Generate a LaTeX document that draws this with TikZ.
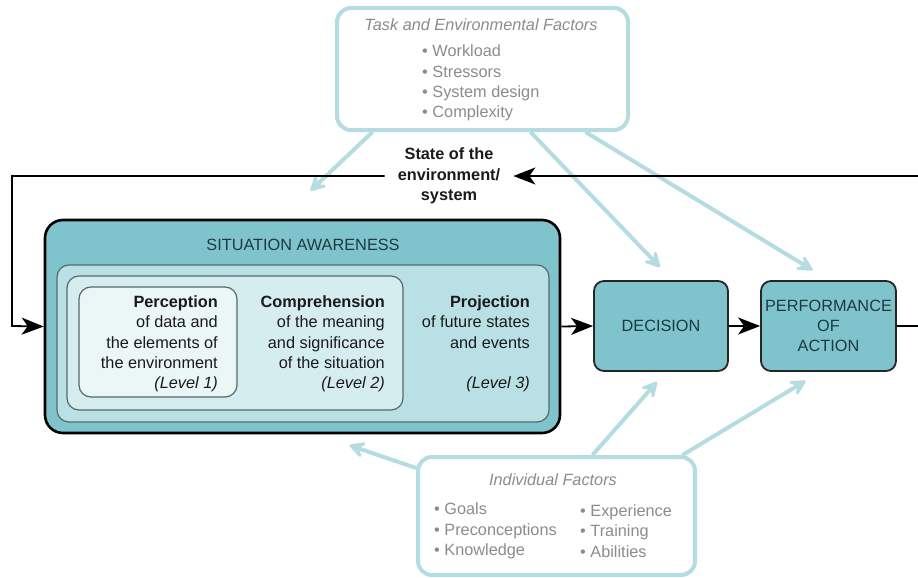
\documentclass[tikz,border=0pt]{standalone}
\usepackage{fontspec}
\setmainfont{Liberation Sans}
\usetikzlibrary{arrows.meta}

\definecolor{saTeal}{HTML}{7FC4CC}
\definecolor{lvThree}{HTML}{B9E0E5}
\definecolor{lvTwo}{HTML}{D6EDF0}
\definecolor{lvOne}{HTML}{EBF6F7}
\definecolor{faint}{HTML}{B5DCE1}
\definecolor{rimGray}{HTML}{56696C}
\definecolor{capText}{HTML}{1D3A40}
\definecolor{bodyText}{HTML}{1A1A1A}
\definecolor{noteGray}{HTML}{8C8C8C}

\newcommand{\diagfont}{\fontsize{16.3}{20.3}\selectfont}

\begin{document}
\begin{tikzpicture}[x=1pt,y=-1pt,font=\diagfont,
    sabox/.style={draw=black, line width=2.6pt, fill=saTeal, rounded corners=18pt},
    lvbox/.style={draw=rimGray, line width=1.2pt, rounded corners=12pt},
    stagebox/.style={draw=black!85, line width=1.8pt, fill=saTeal, rounded corners=10pt,
        minimum width=134pt, minimum height=90pt, align=center, text=capText},
    factorbox/.style={draw=faint, line width=4pt, fill=white, rounded corners=14pt},
    txt/.style={inner sep=0pt, text=bodyText},
    note/.style={inner sep=0pt, text=noteGray},
    flow/.style={line width=1.8pt, -{Stealth[length=22pt,width=17pt,inset=6pt]}},
    infl/.style={draw=faint, line width=4pt,
        -{Stealth[length=21pt,width=22pt,inset=10pt,round]}}]
    \useasboundingbox (0,0) rectangle (918,578);

    % factor boxes
    \node[factorbox, minimum width=291pt, minimum height=122pt] (task) at (482.5,69) {};
    \node[note] (tasktitle) at (481,25) {\itshape Task and Environmental Factors};
    \node[note, anchor=west, align=left] (tasklist) at (422,83)
        {• Workload\\• Stressors\\• System design\\• Complexity};

    \node[factorbox, minimum width=277pt, minimum height=118pt] (indiv) at (556.5,516) {};
    \node[note] (indivtitle) at (553,480) {\itshape Individual Factors};
    \node[note, anchor=west, align=left] (indivleft) at (434,531)
        {• Goals\\• Preconceptions\\• Knowledge};
    \node[note, anchor=west, align=left] (indivright) at (580,531)
        {• Experience\\• Training\\• Abilities};

    % situation awareness and its three levels
    \node[sabox, minimum width=515pt, minimum height=213pt] (sa) at (302.5,326.5) {};
    \node[txt, text=capText] (satitle) at (303,245) {SITUATION AWARENESS};
    \node[lvbox, fill=lvThree, minimum width=492pt, minimum height=157pt] (lvl3) at (303,343.5) {};
    \node[lvbox, fill=lvTwo, minimum width=336pt, minimum height=134pt] (lvl2) at (235,343) {};
    \node[lvbox, fill=lvOne, minimum width=158pt, minimum height=110pt] (lvl1) at (158,342) {};

    \node[txt, anchor=east, align=right] (perc) at (218,344)
        {\textbf{Perception}\\of data and\\the elements of\\the environment\\\textit{(Level 1)}};
    \node[txt, anchor=east, align=right] (comp) at (385,344)
        {\textbf{Comprehension}\\of the meaning\\and significance\\of the situation\\\textit{(Level 2)}};
    \node[txt, anchor=east, align=right] (proj) at (530,344)
        {\textbf{Projection}\\of future states\\and events\\[20.3pt]\textit{(Level 3)}};

    % decision and action
    \node[stagebox] (dec) at (661,326) {DECISION};
    \node[stagebox, minimum width=135pt] (perf) at (828.5,326) {PERFORMANCE\\OF\\ACTION};

    % influences
    \foreach \from/\to in {
        {([xshift=-110pt]task.south)}/{([xshift=8pt,yshift=28pt]sa.north)},
        {([xshift=48pt]task.south)}/{([xshift=-1pt,yshift=13pt]dec.north)},
        {([xshift=103pt]task.south)}/{([xshift=-16pt,yshift=10pt]perf.north)},
        {([xshift=36pt]indiv.north)}/{([xshift=-4pt,yshift=-10pt]dec.south)},
        {([xshift=126pt]indiv.north)}/{([xshift=-23pt,yshift=-9pt]perf.south)},
        {([yshift=48pt]indiv.west)}/{([xshift=47pt,yshift=-11pt]sa.south)}} {
        \draw[infl] \from -- \to;
    }

    % feedback loop
    \node[txt, font=\diagfont\bfseries, align=center, inner xsep=13pt] (state) at (449,176)
        {State of the\\environment/\\system};
    \coordinate (rtop) at (918,176);
    \coordinate (rbot) at (918,326);
    \coordinate (lft) at (12,326);
    \draw[line width=1.8pt] (perf.east) -- (rbot);
    \draw[flow] (rtop) -- (state.east);
    \draw[flow] (state.west) -| (lft) -- (sa.west);
    \draw[flow] (sa.east) -- (dec.west);
    \draw[flow] (dec.east) -- (perf.west);
\end{tikzpicture}
\end{document}
